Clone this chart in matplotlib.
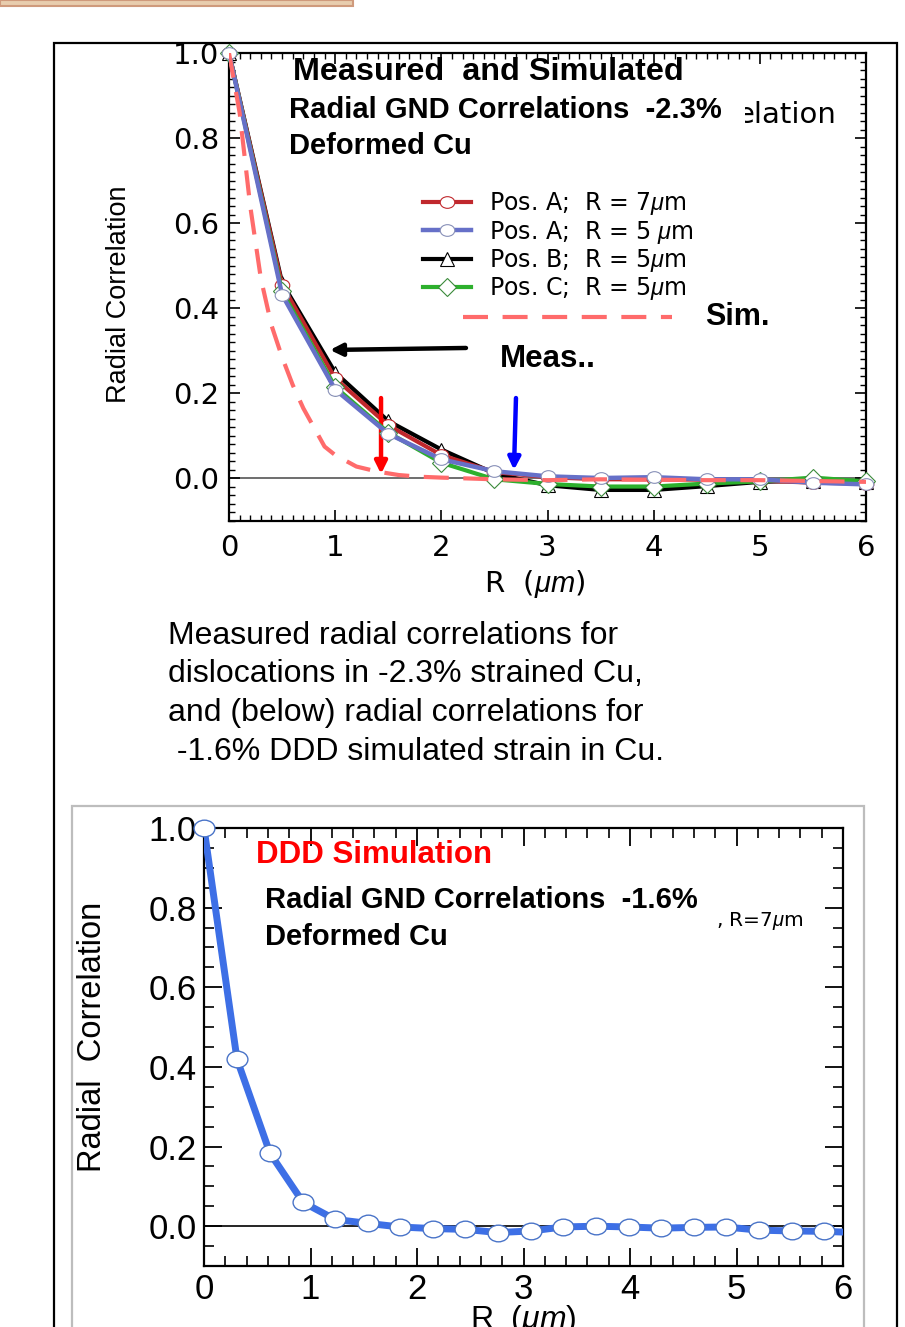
import numpy as np
import matplotlib
matplotlib.use("Agg")
import matplotlib.pyplot as plt
from matplotlib.patches import Rectangle
from matplotlib.lines import Line2D
from matplotlib.path import Path
from matplotlib.ticker import MultipleLocator
from matplotlib.transforms import Bbox, TransformedBbox

plt.rcParams['mathtext.fontset'] = 'custom'
plt.rcParams['mathtext.it'] = 'Liberation Sans:italic'
plt.rcParams['mathtext.rm'] = 'Liberation Sans'

# ---------------- data: top panel (measured + simulated) ----------------
r_meas = [0, 0.5, 1, 1.5, 2, 2.5, 3, 3.5, 4, 4.5, 5, 5.5, 6]
posA_R7 = [1.0, 0.455, 0.235, 0.125, 0.055, 0.015, 0.003, -0.002, -0.002, -0.003, -0.005, -0.010, -0.012]
posA_R5 = [1.0, 0.432, 0.209, 0.105, 0.045, 0.017, 0.005, 0.001, 0.003, -0.002, -0.002, -0.010, -0.014]
posB_R5 = [1.0, 0.460, 0.249, 0.135, 0.068, 0.012, -0.016, -0.027, -0.027, -0.018, -0.008, -0.005, -0.008]
posC_R5 = [1.0, 0.440, 0.215, 0.108, 0.037, -0.002, -0.013, -0.019, -0.019, -0.012, -0.007, 0.002, -0.007]

r_sim = [0, 0.1, 0.2, 0.3, 0.4, 0.5, 0.6, 0.7, 0.8, 0.9, 1.0, 1.2, 1.4, 1.6, 1.8, 2.0, 2.5, 3, 3.5, 4, 4.5, 5, 5.5, 6]
sim_top = [1.0, 0.86, 0.64, 0.47, 0.36, 0.285, 0.22, 0.165, 0.12, 0.075, 0.055, 0.028, 0.016, 0.008, 0.004,
           0.002, -0.002, -0.004, -0.002, -0.003, -0.004, -0.004, -0.006, -0.008]

legend_labels = [r"Pos. A;  R = 7$\mu$m", r"Pos. A;  R = 5 $\mu$m", r"Pos. B;  R = 5$\mu$m", r"Pos. C;  R = 5$\mu$m"]

# ---------------- data: bottom panel (DDD simulation) ----------------
r_ddd = [0, 0.31, 0.62, 0.93, 1.23, 1.54, 1.84, 2.15, 2.45, 2.76, 3.07, 3.37, 3.68, 3.99, 4.29, 4.60, 4.90,
         5.21, 5.52, 5.82, 6.13]
corr_ddd = [1.0, 0.419, 0.183, 0.060, 0.017, 0.007, -0.002, -0.006, -0.008, -0.016, -0.012, -0.002, 0.0,
            -0.002, -0.005, -0.003, -0.002, -0.010, -0.012, -0.013, -0.016]

xticks = [0, 1, 2, 3, 4, 5, 6]
yticks = [0.0, 0.2, 0.4, 0.6, 0.8, 1.0]

W, H = 905, 1327
fig = plt.figure(figsize=(W / 100, H / 100), dpi=100)


def fx(x):
    return x / W


def fy(y):
    return 1 - y / H


# decorative frames
fig.add_artist(Rectangle((0, fy(6)), fx(353), 6 / H, transform=fig.transFigure,
                         facecolor='#E8CDAE', edgecolor='#CF9A7C', lw=1.5, zorder=1))
fig.add_artist(Rectangle((fx(54), -0.05), fx(897) - fx(54), fy(43) + 0.05, transform=fig.transFigure,
                         facecolor='none', edgecolor='black', lw=1.6, zorder=1))
fig.add_artist(Rectangle((fx(72), -0.05), fx(864) - fx(72), fy(806) + 0.05, transform=fig.transFigure,
                         facecolor='none', edgecolor='#BDBDBD', lw=1.6, zorder=1))

ell = Path.unit_circle()
ell = Path(ell.vertices * np.array([1.0, 0.8]), ell.codes)

# ---------------- top axes ----------------
ax1 = fig.add_axes([fx(229), fy(521), fx(866) - fx(229), fy(53) - fy(521)])
ax1.set_xlim(0, 6)
ax1.set_ylim(-0.1, 1.0)
ax1.axhline(0, color='#555555', lw=1.2, zorder=1)

cred, cblue, cgreen = '#C0282D', '#6670C8', '#2DB02D'
lB, = ax1.plot(r_meas, posB_R5, color='black', lw=3, marker='^', ms=10, mfc='white', mec='black', mew=0.8,
               zorder=2, clip_on=False)
lA7, = ax1.plot(r_meas, posA_R7, color=cred, lw=3, marker=ell, ms=10.5, mfc='white', mec=cred, mew=0.8,
                zorder=3, clip_on=False)
lC, = ax1.plot(r_meas, posC_R5, color=cgreen, lw=3, marker='D', ms=9, mfc='white', mec='#3A8A3A', mew=0.8,
               zorder=4, clip_on=False)
lA5, = ax1.plot(r_meas, posA_R5, color=cblue, lw=3.2, marker=ell, ms=10.5, mfc='white', mec='#8890B8', mew=0.8,
                zorder=5, clip_on=False)
ax1.plot(r_sim, sim_top, color='#FF6B6B', lw=3, dashes=[6, 3.5], zorder=6)

ax1.legend([lA7, lA5, lB, lC], legend_labels, loc='upper left', bbox_to_anchor=(0.305, 0.707),
           frameon=False, borderpad=0, borderaxespad=0, handlelength=2.0, handletextpad=0.8,
           labelspacing=0.06, prop={'family': 'DejaVu Sans', 'size': 17})

ax1.set_xticks(xticks)
ax1.set_yticks(yticks)
ax1.set_yticklabels([f"{v:.1f}" for v in yticks])
ax1.xaxis.set_minor_locator(MultipleLocator(0.1))
ax1.yaxis.set_minor_locator(MultipleLocator(0.02))
ax1.tick_params(which='both', direction='in', top=True, right=True)
ax1.tick_params(which='major', length=8, width=1.2, labelsize=21, pad=7)
ax1.tick_params(axis='x', which='major', pad=9)
ax1.tick_params(which='minor', length=4.5, width=1.0)
for lab in ax1.get_xticklabels() + ax1.get_yticklabels():
    lab.set_family('DejaVu Sans')
for s in ax1.spines.values():
    s.set_linewidth(1.6)
ax1.set_ylabel("Radial Correlation", family='Liberation Sans', fontsize=19.5)
ax1.yaxis.set_label_coords(-0.152, 0.484)
ax1.set_xlabel(r"R  ($\mu m$)", family='DejaVu Sans', fontsize=21)
ax1.xaxis.set_label_coords(0.48, -0.100)

# arrows
ax1.annotate("", xy=(0.951, 0.302), xytext=(2.232, 0.3067),
             arrowprops=dict(arrowstyle='-|>', lw=3.2, color='black', mutation_scale=18, shrinkA=0, shrinkB=0))
ax1.annotate("", xy=(1.432, 0.0106), xytext=(1.432, 0.189),
             arrowprops=dict(arrowstyle='-|>', lw=3.2, color='#FF0000', mutation_scale=18, shrinkA=0, shrinkB=0))
ax1.annotate("", xy=(2.684, 0.02), xytext=(2.703, 0.189),
             arrowprops=dict(arrowstyle='-|>', lw=3.2, color='#0000FF', mutation_scale=18, shrinkA=0, shrinkB=0))

# Sim. legend-like line
fig.add_artist(Line2D([fx(463), fx(672)], [fy(317), fy(317)], transform=fig.transFigure,
                      color='#FF6B6B', lw=3, dashes=[6, 3.5], zorder=3))

# top texts
t_rem = fig.text(fx(836), fy(115), "elation", ha='right', va='center', family='DejaVu Sans', fontsize=21, zorder=3)
t_rem.set_clip_box(TransformedBbox(Bbox([[fx(745), 0], [1, 1]]), fig.transFigure))
t_rem.set_clip_on(True)
fig.text(fx(293), fy(72), "Measured  and Simulated", ha='left', va='center', family='Liberation Sans',
         weight='bold', fontsize=23.3, zorder=4)
fig.text(fx(289), fy(110), "Radial GND Correlations  -2.3%", ha='left', va='center', family='Liberation Sans',
         weight='bold', fontsize=21, zorder=4)
fig.text(fx(289), fy(146), "Deformed Cu", ha='left', va='center', family='Liberation Sans',
         weight='bold', fontsize=21, zorder=4)
fig.text(fx(705), fy(317), "Sim.", ha='left', va='center', family='Liberation Sans', weight='bold', fontsize=22, zorder=4)
fig.text(fx(500), fy(359), "Meas..", ha='left', va='center', family='Liberation Sans', weight='bold', fontsize=22.5, zorder=4)

# caption
caption = ["Measured radial correlations for",
           "dislocations in -2.3% strained Cu,",
           "and (below) radial correlations for",
           " -1.6% DDD simulated strain in Cu."]
for i, line in enumerate(caption):
    fig.text(fx(168), fy(636 + i * 38.5), line, ha='left', va='center', family='Liberation Sans', fontsize=23)

# ---------------- bottom axes ----------------
ax2 = fig.add_axes([fx(204), fy(1266), fx(843) - fx(204), fy(828) - fy(1266)])
ax2.set_xlim(0, 6)
ax2.set_ylim(-0.1, 1.0)
ax2.axhline(0, color='black', lw=1.2, zorder=1)
ax2.plot(r_ddd, corr_ddd, color='#3D6FE6', lw=5, zorder=3)
in_rng = [i for i, r in enumerate(r_ddd) if r <= 6]
ax2.plot([r_ddd[i] for i in in_rng], [corr_ddd[i] for i in in_rng], ls='none', marker=ell, ms=15,
         mfc='white', mec='#4A74C8', mew=1.0, zorder=4, clip_on=False)
ax2.set_xticks(xticks)
ax2.set_yticks(yticks)
ax2.set_yticklabels([f"{v:.1f}" for v in yticks])
ax2.xaxis.set_minor_locator(MultipleLocator(0.2))
ax2.yaxis.set_minor_locator(MultipleLocator(0.05))
ax2.tick_params(which='both', direction='in', top=True, right=True)
ax2.tick_params(which='major', length=13, width=1.3, labelsize=25, pad=5)
ax2.tick_params(which='minor', length=7, width=1.2)
for lab in ax2.get_xticklabels() + ax2.get_yticklabels():
    lab.set_family('Liberation Sans')
for s in ax2.spines.values():
    s.set_linewidth(1.6)
ax2.set_ylabel("Radial  Correlation", family='Liberation Sans', fontsize=23.5)
ax2.yaxis.set_label_coords(-0.150, 0.524)
ax2.set_xlabel(r"R  ($\mu m$)", family='Liberation Sans', fontsize=23)
ax2.xaxis.set_label_coords(0.5, -0.085)

fig.text(fx(256), fy(855), "DDD Simulation", ha='left', va='center', family='Liberation Sans', weight='bold',
         fontsize=22.5, color='#FF0000', zorder=4)
fig.text(fx(265), fy(900), "Radial GND Correlations  -1.6%", ha='left', va='center', family='Liberation Sans',
         weight='bold', fontsize=21, zorder=4)
fig.text(fx(265), fy(937), "Deformed Cu", ha='left', va='center', family='Liberation Sans',
         weight='bold', fontsize=21, zorder=4)
fig.text(fx(716), fy(921), r", R=7$\mu$m", ha='left', va='center', family='DejaVu Sans', fontsize=14.5, zorder=4)

fig.savefig("out.png", dpi=100)
